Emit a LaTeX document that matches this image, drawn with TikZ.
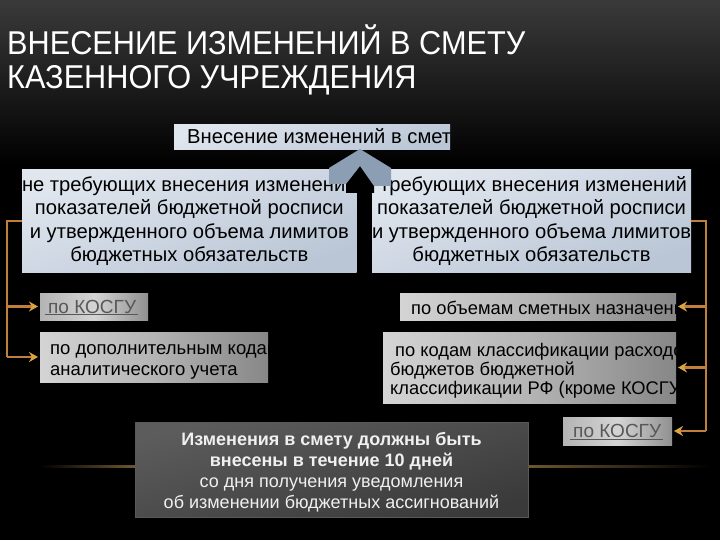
\documentclass[tikz,border=0pt]{standalone}
\usepackage{fontspec}
\setmainfont{Liberation Sans}
\newfontfamily\titlefont{Liberation Sans}[FakeStretch=0.93]
\usetikzlibrary{arrows.meta,calc}
\definecolor{bluelight}{RGB}{224,230,238}
\definecolor{bluedark}{RGB}{186,198,214}
\definecolor{graylight}{RGB}{212,212,212}
\definecolor{graymid}{RGB}{180,180,180}
\definecolor{graydark}{RGB}{135,135,135}
\definecolor{connc}{RGB}{192,128,60}
\definecolor{tipc}{RGB}{218,164,66}
\definecolor{chev}{RGB}{140,158,180}
\definecolor{darkboxA}{RGB}{92,92,92}
\definecolor{darkboxB}{RGB}{58,58,58}
\definecolor{linkc}{RGB}{88,88,88}
\definecolor{bgtop}{RGB}{58,58,58}
\definecolor{glow}{RGB}{110,88,48}
\begin{document}
\begin{tikzpicture}[x=1pt,y=-1pt,
  box/.style={draw=none,inner sep=0pt,outer sep=0pt,anchor=north west},
  bluebox/.style={box,top color=bluelight,bottom color=bluedark,shading angle=20},
  graybox/.style={box,left color=graylight,right color=graydark,middle color=graymid},
  linkbox/.style={box,left color=graymid,right color=graymid!80!black,middle color=graylight},
  bodytxt/.style={inner sep=0pt,text=black,font=\fontsize{20.2}{23.5}\selectfont},
  smalltxt/.style={inner sep=0pt,text=black,font=\fontsize{18.3}{19.2}\selectfont},
  linktxt/.style={inner sep=0pt,text=linkc,font=\fontsize{19}{21}\selectfont},
  titletxt/.style={anchor=base west,inner sep=0pt,text=white,font=\titlefont\fontsize{33}{36}\selectfont},
  conn/.style={draw=connc,line width=2.4pt},
  arr/.style={conn,-{Stealth[length=9pt,width=10pt,fill=tipc,color=tipc]}}
]
\useasboundingbox (0,0) rectangle (720,540);
% background
\fill[black] (0,0) rectangle (720,540);
\shade[top color=bgtop,bottom color=black] (0,0) rectangle (720,165);
% faint decorative line
\shade[left color=black,right color=glow] (40,465) rectangle (136,467.5);
\shade[left color=glow,right color=black] (527,465) rectangle (710,467.5);

% title
\node[titletxt] (title1) at (7,55) {ВНЕСЕНИЕ ИЗМЕНЕНИЙ В СМЕТУ};
\node[titletxt] (title2) at (7,89) {КАЗЕННОГО УЧРЕЖДЕНИЯ};

% top box
\node[bluebox,minimum width=276pt,minimum height=25pt] (top) at (174,125) {};
\begin{scope}
  \clip (top.north west) rectangle (top.south east);
  \node[bodytxt,anchor=west] (topt) at ([xshift=13pt,yshift=-1pt]top.west) {Внесение изменений в смету};
\end{scope}

% big boxes
\node[bluebox,minimum width=333pt,minimum height=102pt,align=center,bodytxt] (L) at (22,170)
  {не требующих внесения изменений\\показателей бюджетной росписи\\и утвержденного объема лимитов\\бюджетных обязательств};
\node[bluebox,minimum width=316pt,minimum height=102pt,align=center,bodytxt] (R) at (372,170)
  {\hspace*{4pt}требующих внесения изменений\\показателей бюджетной росписи\\и утвержденного объема лимитов\\бюджетных обязательств};

% chevron
\fill[black] (346,183) -- (360,166) -- (374,185) -- (374,193) -- (346,193) -- cycle;
\fill[chev] (329,184) -- (329,168) -- (360,149) -- (391,168) -- (391,186)
   -- (374,186) -- (360,166) -- (346,184) -- cycle;

% left column
\node[linkbox,minimum width=108pt,minimum height=27pt] (k1) at (40,293) {};
\begin{scope}
  \clip (k1.north west) rectangle (k1.south east);
  \node[linktxt,anchor=west] (k1t) at ([xshift=5pt,yshift=-1pt]k1.west) {\underline{\kern3pt по КОСГУ\kern2pt}};
\end{scope}
\node[graybox,minimum width=228pt,minimum height=50pt] (dop) at (40,332) {};
\begin{scope}
  \clip (dop.north west) rectangle (dop.south east);
  \node[smalltxt,anchor=west,align=left,font=\fontsize{18.5}{20.5}\selectfont] (dopt)
    at ([xshift=10pt,yshift=-5pt]dop.west) {по дополнительным кодам\\аналитического учета};
\end{scope}

% right column
\node[graybox,minimum width=276pt,minimum height=27pt] (ob) at (400,293) {};
\begin{scope}
  \clip (ob.north west) rectangle (ob.south east);
  \node[smalltxt,anchor=west] (obt) at ([xshift=11pt,yshift=-1pt]ob.west) {по объемам сметных назначений};
\end{scope}
\node[graybox,minimum width=293pt,minimum height=71pt] (kod) at (383,332) {};
\begin{scope}
  \clip (kod.north west) rectangle (kod.south east);
  \node[smalltxt,anchor=west,align=left] (kodt) at ([xshift=7pt,yshift=-3pt]kod.west)
     {\hspace*{5pt}по кодам классификации расходов\\бюджетов бюджетной\\классификации РФ (кроме КОСГУ)};
\end{scope}
\node[linkbox,minimum width=109pt,minimum height=28pt] (k2) at (563,417) {};
\begin{scope}
  \clip (k2.north west) rectangle (k2.south east);
  \node[linktxt,anchor=west] (k2t) at ([xshift=7pt,yshift=-1pt]k2.west) {\underline{\kern3pt по КОСГУ\kern2pt}};
\end{scope}

% bottom box
\node[box,minimum width=393pt,minimum height=95pt,top color=darkboxA,bottom color=darkboxB,
      shading angle=15,draw=gray!70!black,line width=0.6pt] (bot) at (135,422) {};
\node[inner sep=0pt,text=white!94!black,align=center,font=\fontsize{18}{21}\selectfont,
      anchor=north] (bott) at ($(bot.north)+(0,10)$)
  {\textbf{Изменения в смету должны быть}\\\textbf{внесены в течение 10 дней}\\со дня получения уведомления\\об изменении бюджетных ассигнований};

% connectors
\coordinate (lx) at (7,0);
\coordinate (rx) at (706,0);
\draw[conn] (L.west) -| (lx |- dop.west);
\draw[arr] (lx |- dop.west) -- ([xshift=-2pt]dop.west);
\draw[arr] (lx |- k1.west) -- ([xshift=-2pt]k1.west);
\draw[conn] (R.east) -| (rx |- k2.east);
\draw[arr] (rx |- k2.east) -- ([xshift=2pt]k2.east);
\draw[arr] (rx |- ob.east) -- ([xshift=2pt]ob.east);
\draw[arr] (rx |- kod.east) -- ([xshift=2pt]kod.east);
\end{tikzpicture}
\end{document}
